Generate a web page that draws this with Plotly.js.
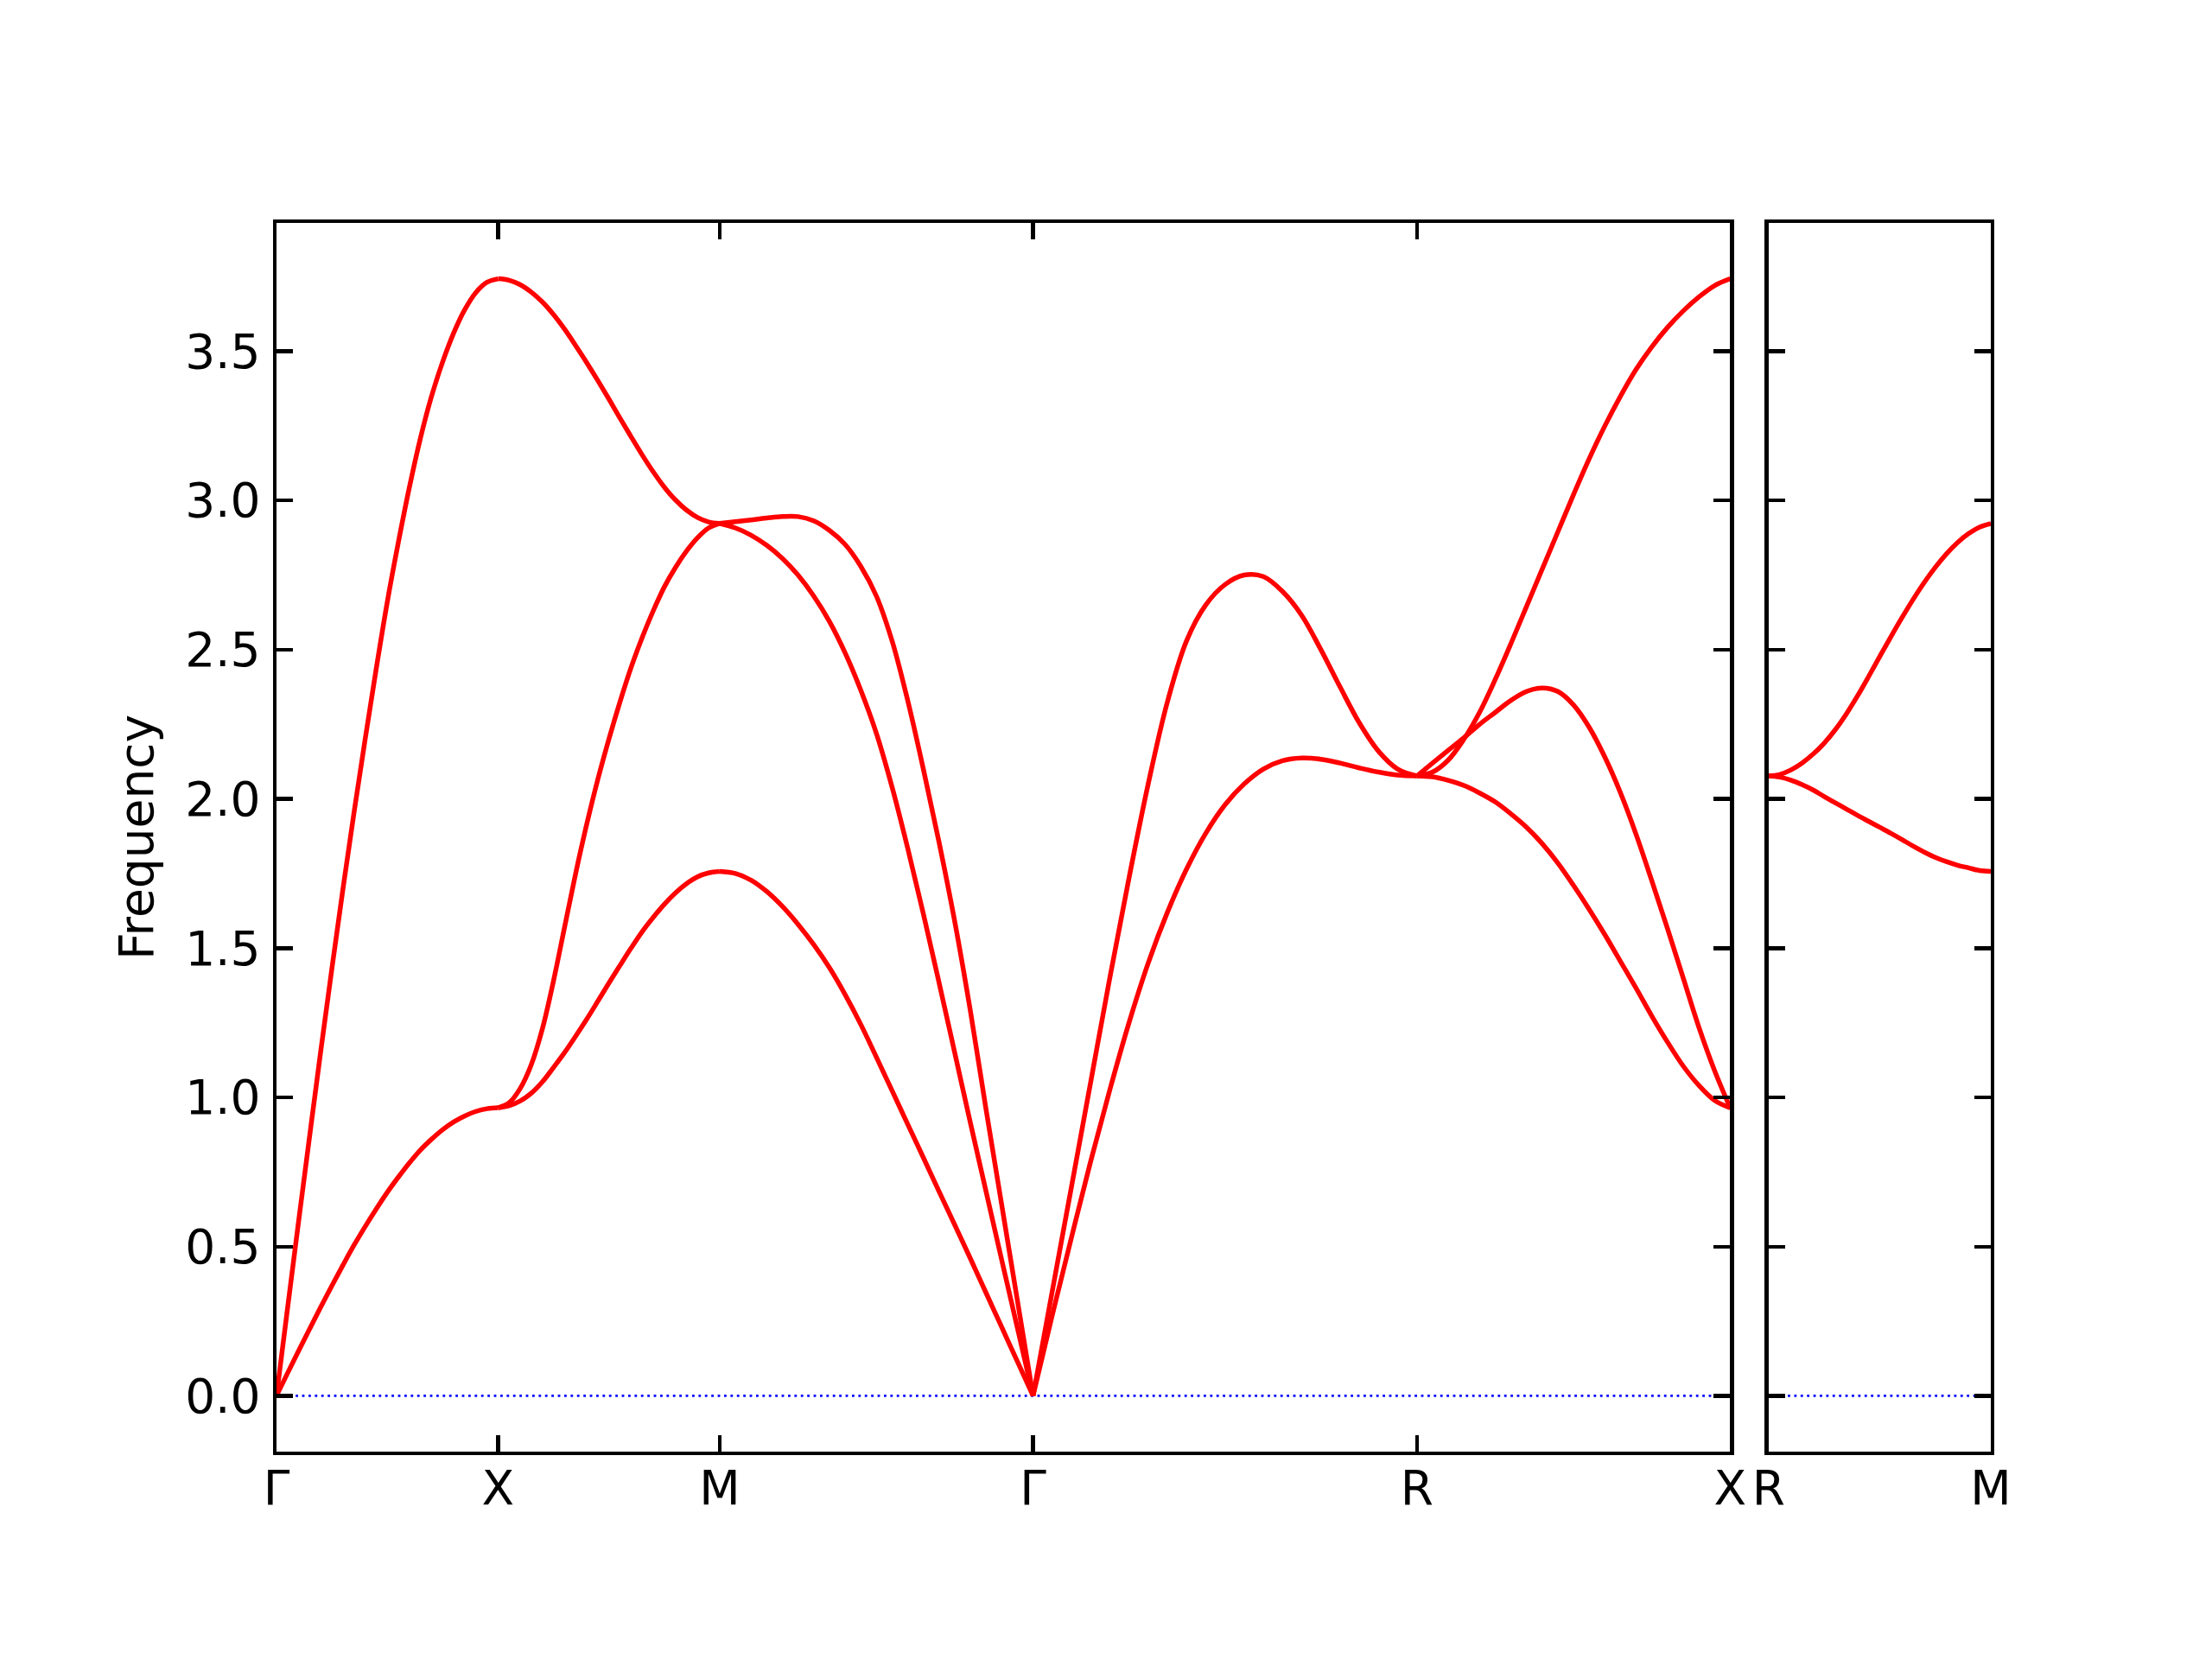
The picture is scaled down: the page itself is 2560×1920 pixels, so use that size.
<!DOCTYPE html>
<html><head><meta charset="utf-8">
<script src="https://cdn.plot.ly/plotly-3.0.1.min.js"></script>
<style>body{margin:0;background:#fff}</style>
</head><body>
<div id="plot" style="width:2560px;height:1920px"></div>
<script>
// High-symmetry path of the main panel and distance along the path
const pathLabels = ['Γ','X','M','Γ','R','X'];
const pathDist   = [0, 1, 2, 3.4142, 5.1463, 6.5605];
// Second panel path
const path2Labels = ['R','M'];
const path2Dist   = [0, 1];
// Fractional sample positions along every segment
const frac = [0, 0.05, 0.1, 0.15, 0.2, 0.25, 0.3, 0.35, 0.4, 0.45, 0.5,
              0.55, 0.6, 0.65, 0.7, 0.75, 0.8, 0.85, 0.9, 0.95, 1.0];

// Γ–X
const gx_T = [0, 0.076, 0.151, 0.225, 0.298, 0.369, 0.438, 0.505, 0.567, 0.626, 0.682,
              0.733, 0.781, 0.824, 0.860, 0.892, 0.918, 0.938, 0.953, 0.962, 0.965];
const gx_L = [0, 0.294, 0.586, 0.873, 1.157, 1.432, 1.699, 1.955, 2.200, 2.436, 2.660,
              2.860, 3.045, 3.210, 3.350, 3.465, 3.562, 3.640, 3.697, 3.731, 3.743];
// X–M
const xm_1 = [0.965, 0.972, 0.988, 1.014, 1.052, 1.100, 1.150, 1.205, 1.262, 1.322, 1.383,
              1.442, 1.500, 1.555, 1.603, 1.647, 1.685, 1.716, 1.739, 1.752, 1.757];
const xm_2 = [0.965, 0.982, 1.030, 1.110, 1.230, 1.390, 1.570, 1.750, 1.915, 2.065, 2.200,
              2.325, 2.440, 2.540, 2.630, 2.710, 2.775, 2.830, 2.875, 2.908, 2.923];
const xm_3 = [3.743, 3.738, 3.723, 3.698, 3.665, 3.623, 3.574, 3.519, 3.462, 3.402, 3.340,
              3.276, 3.214, 3.153, 3.096, 3.045, 3.002, 2.968, 2.943, 2.928, 2.923];
// M–Γ
const mg_1 = [1.757, 1.750, 1.728, 1.690, 1.640, 1.580, 1.512, 1.435, 1.345, 1.245, 1.135,
              1.023, 0.910, 0.798, 0.685, 0.573, 0.460, 0.345, 0.230, 0.115, 0];
const mg_2 = [2.923, 2.908, 2.884, 2.850, 2.806, 2.750, 2.680, 2.595, 2.490, 2.365, 2.220,
              2.040, 1.835, 1.615, 1.385, 1.150, 0.915, 0.685, 0.455, 0.228, 0];
const mg_3 = [2.923, 2.929, 2.935, 2.941, 2.946, 2.946, 2.932, 2.900, 2.853, 2.780, 2.680,
              2.530, 2.330, 2.100, 1.855, 1.590, 1.290, 0.960, 0.640, 0.320, 0];
// Γ–R
const gr_1 = [0, 0.270, 0.530, 0.785, 1.025, 1.250, 1.450, 1.620, 1.765, 1.885, 1.980,
              2.050, 2.100, 2.128, 2.137, 2.133, 2.120, 2.104, 2.090, 2.080, 2.077];
const gr_2 = [0, 0.350, 0.700, 1.050, 1.400, 1.735, 2.050, 2.325, 2.530, 2.650, 2.718,
              2.750, 2.745, 2.695, 2.615, 2.500, 2.375, 2.255, 2.160, 2.100, 2.077];
// R–X
const rx_1 = [2.077, 2.074, 2.062, 2.045, 2.020, 1.990, 1.950, 1.905, 1.850, 1.785, 1.710,
              1.630, 1.545, 1.455, 1.365, 1.272, 1.185, 1.105, 1.040, 0.990, 0.965];
const rx_2 = [2.077, 2.120, 2.163, 2.205, 2.250, 2.290, 2.330, 2.360, 2.372, 2.360, 2.315,
              2.240, 2.140, 2.020, 1.880, 1.725, 1.565, 1.400, 1.235, 1.090, 0.965];
const rx_3 = [2.077, 2.090, 2.130, 2.200, 2.290, 2.400, 2.520, 2.645, 2.770, 2.895, 3.020,
              3.140, 3.250, 3.350, 3.440, 3.515, 3.580, 3.635, 3.682, 3.720, 3.743];
// R–M (second panel)
const rm_1 = [2.077, 2.073, 2.063, 2.048, 2.030, 2.008, 1.987, 1.966, 1.945, 1.925, 1.905,
              1.885, 1.864, 1.842, 1.822, 1.804, 1.790, 1.778, 1.769, 1.760, 1.757];
const rm_2 = [2.077, 2.082, 2.097, 2.120, 2.150, 2.187, 2.232, 2.285, 2.345, 2.410, 2.477,
              2.543, 2.607, 2.668, 2.725, 2.776, 2.821, 2.859, 2.889, 2.911, 2.923];

const yTicks = [0, 0.5, 1.0, 1.5, 2.0, 2.5, 3.0, 3.5];
const yRange = [-0.187, 3.930];

const mainSegments = [[gx_T, gx_L], [xm_1, xm_2, xm_3], [mg_1, mg_2, mg_3], [gr_1, gr_2], [rx_1, rx_2, rx_3]];
const sideSegments = [[rm_1, rm_2]];

const traces = [];
function zeroLine(xa, ya, x0, x1) {
  traces.push({x: [x0, x1], y: [0, 0], xaxis: xa, yaxis: ya, mode: 'lines',
    line: {color: '#0000ff', width: 2.8, dash: '2.8px,4.6px'}, hoverinfo: 'skip'});
}
zeroLine('x', 'y', pathDist[0], pathDist[pathDist.length - 1]);
zeroLine('x2', 'y2', path2Dist[0], path2Dist[path2Dist.length - 1]);

function addSegments(segs, dist, xa, ya) {
  segs.forEach((bands, i) => {
    const a = dist[i], b = dist[i + 1];
    const xs = frac.map(f => a + f * (b - a));
    bands.forEach(vals => {
      traces.push({x: xs, y: vals, xaxis: xa, yaxis: ya, mode: 'lines',
        line: {color: '#ff0000', width: 5.5, shape: 'spline', smoothing: 1}, hoverinfo: 'skip'});
    });
  });
}
addSegments(mainSegments, pathDist, 'x', 'y');
addSegments(sideSegments, path2Dist, 'x2', 'y2');

const font = {family: 'DejaVu Sans, sans-serif', size: 55, color: '#000'};
const axisCommon = {showline: true, linecolor: '#000', linewidth: 4.4, mirror: 'ticks',
  ticks: 'inside', ticklen: 19, tickwidth: 4.4, tickcolor: '#000', showgrid: false,
  zeroline: false, tickfont: font};

const layout = {
  width: 2560, height: 1920,
  margin: {l: 320, r: 256, t: 258, b: 240},
  paper_bgcolor: '#fff', plot_bgcolor: '#fff',
  showlegend: false, hovermode: false,
  font: font,
  xaxis: Object.assign({}, axisCommon, {domain: [0, 0.848], anchor: 'y',
    range: [pathDist[0], pathDist[pathDist.length - 1]], ticklabelstandoff: -9,
    tickmode: 'array', tickvals: pathDist, ticktext: pathLabels}),
  xaxis2: Object.assign({}, axisCommon, {domain: [0.8704, 1], anchor: 'y2',
    range: [path2Dist[0], path2Dist[path2Dist.length - 1]], ticklabelstandoff: -9,
    tickmode: 'array', tickvals: path2Dist, ticktext: path2Labels}),
  yaxis: Object.assign({}, axisCommon, {anchor: 'x', range: yRange, ticklabelstandoff: 3,
    tickmode: 'array', tickvals: yTicks, ticktext: yTicks.map(v => v.toFixed(1)),
    title: {text: 'Frequency', font: font, standoff: 20}}),
  yaxis2: Object.assign({}, axisCommon, {anchor: 'x2', range: yRange,
    tickmode: 'array', tickvals: yTicks, showticklabels: false})
};

Plotly.newPlot('plot', traces, layout, {staticPlot: true});
</script>
</body></html>
